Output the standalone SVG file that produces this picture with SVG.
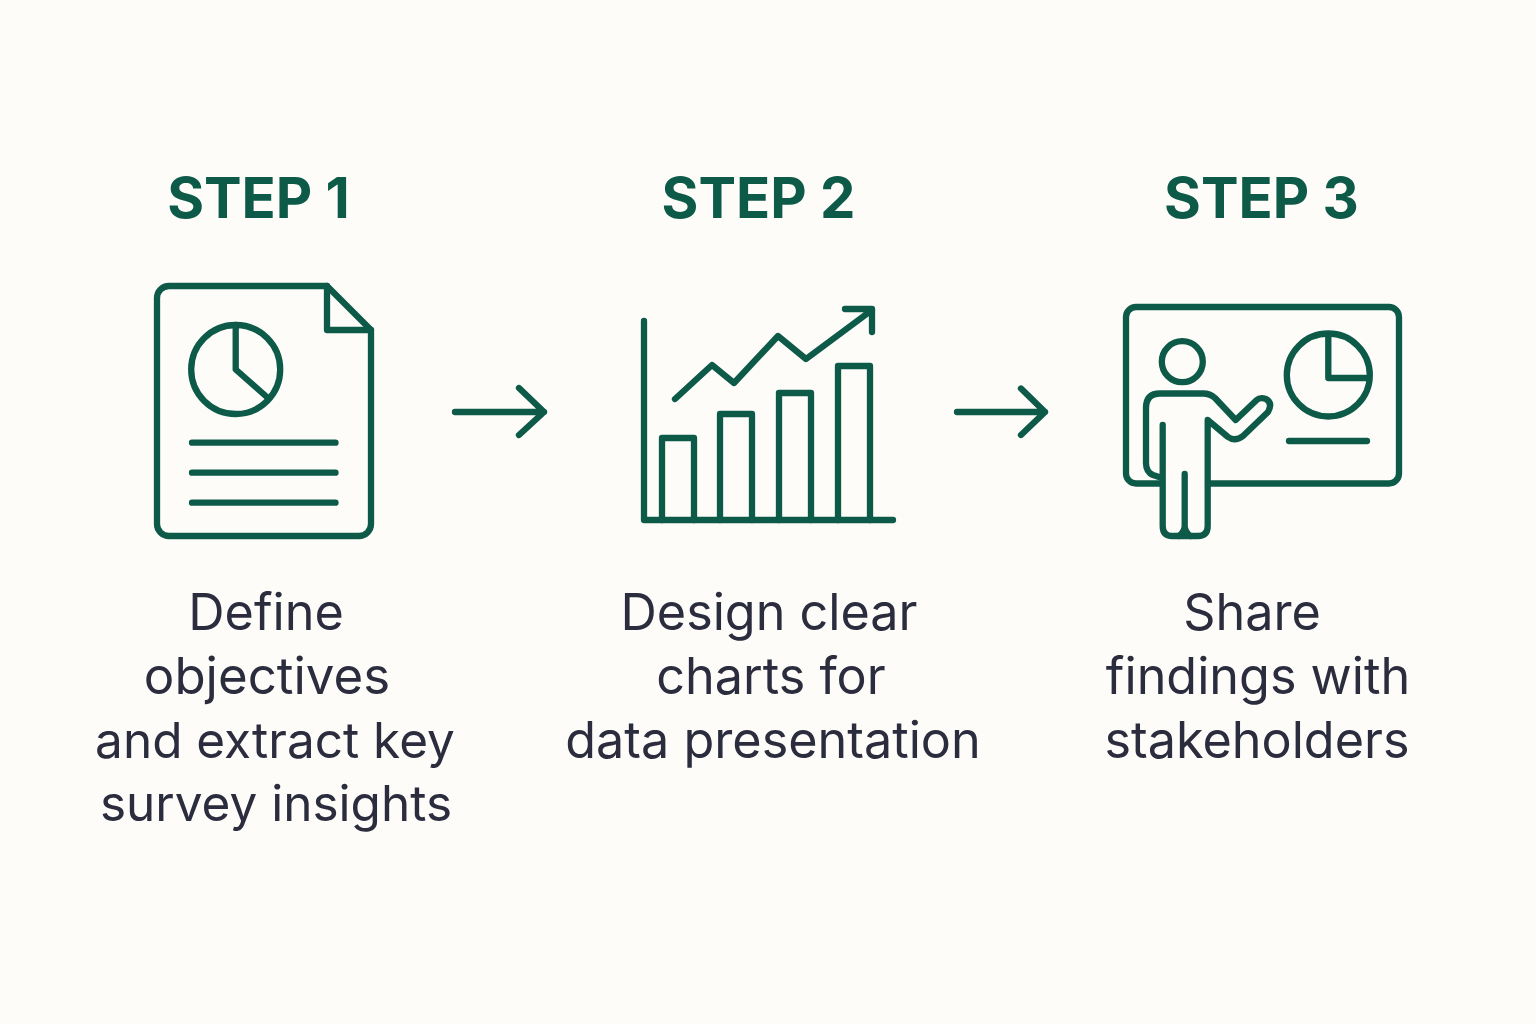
<svg xmlns="http://www.w3.org/2000/svg" width="1536" height="1024" viewBox="0 0 1536 1024">
<style>
.i{fill:none;stroke:#0d5a48;stroke-width:6.3;stroke-linecap:round;stroke-linejoin:round}
.h{font-family:Inter,"Liberation Sans",sans-serif;font-weight:700;font-size:56.3px;fill:#0d5a48;text-anchor:middle}
.t{font-family:Inter,"Liberation Sans",sans-serif;font-weight:400;font-size:50.3px;fill:#2b2d3e;text-anchor:middle}
.s{font-size:49.5px}
</style>
<rect width="1536" height="1024" fill="#fdfcf8"/>
<g id="step1">
<text class="h" x="258.5" y="218">STEP 1</text>
<path class="i" d="M169 286H327L371 330V524a12 12 0 0 1-12 12H169a12 12 0 0 1-12-12V298a12 12 0 0 1 12-12Z"/>
<path class="i" d="M327 286V330H371"/>
<circle class="i" cx="235.7" cy="369.5" r="44.5"/>
<path class="i" d="M235.7 325V369.5L268 398"/>
<path class="i" d="M192 442.7H335.500M192 472.7H335.500M192 502.7H335.500"/>
<text class="t"><tspan x="266" y="630">Define</tspan><tspan x="267" y="694" font-size="51">objectives</tspan><tspan class="s" x="275" y="758">and extract key</tspan><tspan class="s" x="276" y="821">survey insights</tspan></text>
</g>
<g id="step2">
<text class="h" x="758.5" y="218">STEP 2</text>
<path class="i" d="M644 321V520H893"/>
<path class="i" d="M662 520V438H694V520M720 520V414H752V520M779 520V393H811V520M838 520V366H870V520"/>
<path class="i" d="M675 399L712 365L734 383L778 336L806 359L872 310M845 309H872V332"/>
<text class="t"><tspan x="769" y="630">Design clear</tspan><tspan x="771" y="694">charts for</tspan><tspan x="773" y="758">data presentation</tspan></text>
</g>
<g id="step3">
<text class="h" x="1261.5" y="218">STEP 3</text>
<path class="i" d="M1162 483.5H1136a10 10 0 0 1-10-10V317a10 10 0 0 1 10-10H1389a10 10 0 0 1 10 10V473.5a10 10 0 0 1-10 10H1208"/>
<circle class="i" cx="1182.3" cy="361.7" r="20.5"/>
<circle class="i" cx="1328.3" cy="375" r="41.5"/>
<path class="i" d="M1328.3 336V378H1368M1289 441H1367"/>
<path class="i" d="M1162.7 425V526Q1162.7 536 1172 536H1198Q1207.7 536 1207.7 526V420L1228 437Q1235 442 1243 436L1268 412Q1273 403 1266 399Q1260 397 1256.7 400L1235.7 420L1215 398Q1210 393.5 1203 393.5H1160Q1146 393.5 1146 408V463Q1146 472 1153 475L1162 478"/>
<path class="i" d="M1184.7 474V526Q1184.7 531 1179 536M1184.7 526Q1184.7 531 1190 536"/>
<text class="t"><tspan x="1252" y="630">Share</tspan><tspan x="1258" y="694">findings with</tspan><tspan x="1257" y="758">stakeholders</tspan></text>
</g>
<g id="connectors">
<path class="i" d="M455 412H544M519 388L544 412L519 435"/>
<path class="i" d="M957 412H1045M1021 388.5L1045 412L1021 435"/>
</g>
</svg>
